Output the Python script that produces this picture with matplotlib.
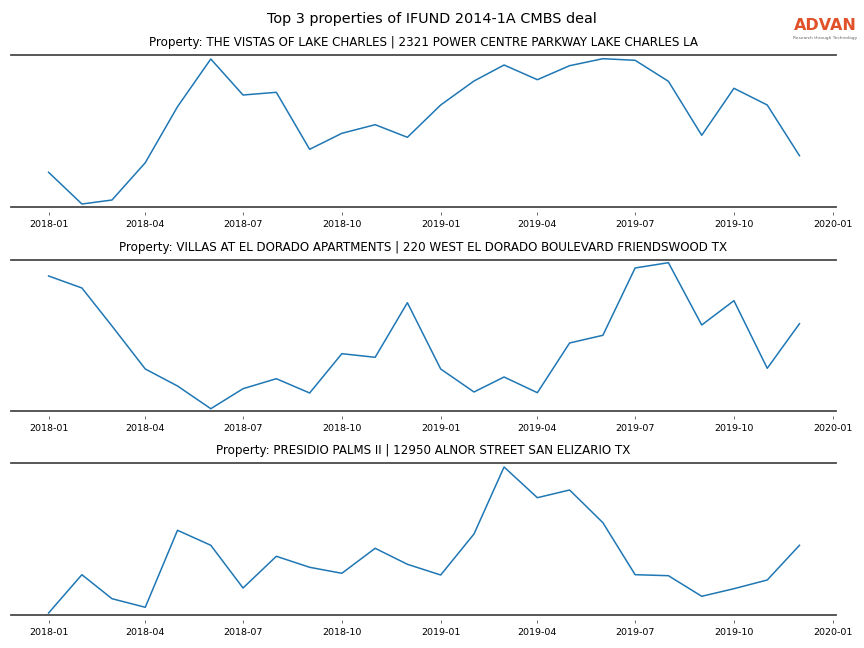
import matplotlib
matplotlib.use("Agg")
import matplotlib.pyplot as plt
import matplotlib.dates as mdates
import pandas as pd

months = pd.date_range("2018-01-01", "2019-12-01", freq="MS")

titles = [
    "Property: THE VISTAS OF LAKE CHARLES | 2321 POWER CENTRE PARKWAY LAKE CHARLES LA",
    "Property: VILLAS AT EL DORADO APARTMENTS | 220 WEST EL DORADO BOULEVARD FRIENDSWOOD TX",
    "Property: PRESIDIO PALMS II | 12950 ALNOR STREET SAN ELIZARIO TX",
]

vistas = [34.4, 2.7, 6.7, 44.0, 100.0, 147.7, 111.7, 114.4, 57.4, 73.4, 82.0, 69.4,
          101.7, 125.7, 141.7, 127.0, 141.0, 148.0, 146.4, 125.4, 71.4, 118.4, 101.7, 51.0]
villas = [134.7, 122.7, 84.7, 41.7, 24.7, 2.0, 22.0, 32.0, 17.7, 57.0, 53.4, 108.0,
          41.7, 18.7, 33.7, 18.0, 67.7, 75.4, 142.7, 148.0, 85.7, 110.0, 42.4, 87.0]
presidio = [1.7, 40.0, 16.0, 7.4, 84.4, 69.4, 26.7, 58.4, 47.4, 41.4, 66.4, 50.4,
            39.7, 80.7, 147.7, 117.0, 124.7, 92.0, 40.0, 39.0, 18.4, 26.0, 34.7, 69.4]

series = [vistas, villas, presidio]
y_tops = [151.7, 150.7, 151.7]

fig = plt.figure(figsize=(8.64, 6.48), dpi=100)

boxes = [(1 - 55 / 648, 0.6810), (0.5988, 0.3662), (0.2855, 0.0514)]
left, right = 11 / 864, 836 / 864
spine_color = "#4a4a4a"

fig.text(0.5, 1 - 19 / 648, "Top 3 properties of IFUND 2014-1A CMBS deal",
         ha="center", va="center", fontsize=10.4)

for i, (vals, title) in enumerate(zip(series, titles)):
    top, bottom = boxes[i]
    ax = fig.add_axes([left, bottom, right - left, top - bottom])
    ax.plot(months, vals, color="#1f77b4", linewidth=1.1)
    ax.set_xlim(pd.Timestamp("2017-11-27"), pd.Timestamp("2020-01-04"))
    ax.set_ylim(0, y_tops[i])
    ax.xaxis.set_major_locator(mdates.MonthLocator(bymonth=[1, 4, 7, 10]))
    ax.xaxis.set_major_formatter(mdates.DateFormatter("%Y-%m"))
    ax.set_yticks([])
    for s in ("left", "right"):
        ax.spines[s].set_visible(False)
    ax.spines["top"].set_color(spine_color)
    ax.spines["top"].set_linewidth(1.3)
    ax.spines["bottom"].set_visible(False)
    ax.spines["bottom"].set_position(("outward", 4))
    ax.plot([0, 1], [0, 0], transform=ax.transAxes, color=spine_color,
            linewidth=1.3, clip_on=False)
    ax.tick_params(axis="x", labelsize=6.8, length=2.5, width=0.6,
                   color="#555555", pad=3)
    ax.set_title(title, fontsize=8.6, pad=6.2)

fig.text(857 / 864, 1 - 25 / 648, "ADVAN", ha="right", va="center",
         fontsize=11.5, fontweight="bold", color="#e0512a")
fig.text(857 / 864, 1 - 37.5 / 648, "Research through Technology", ha="right",
         va="center", fontsize=3.2, color="#666666")

fig.savefig("out.png", dpi=100)
